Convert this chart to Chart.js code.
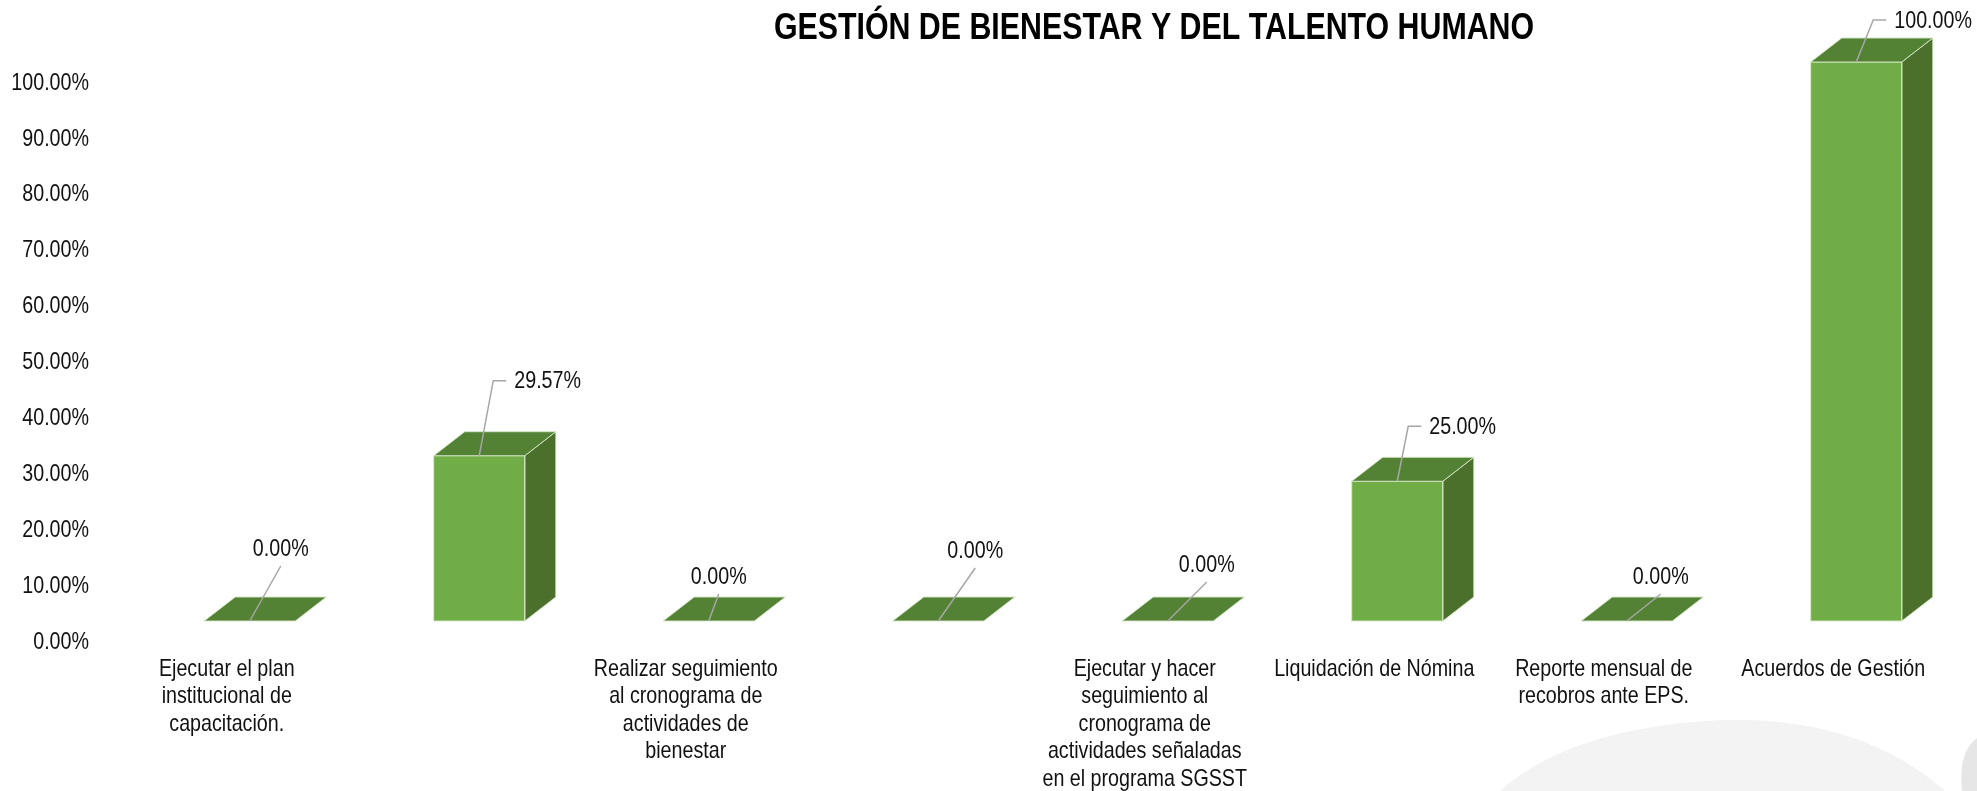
<!DOCTYPE html>
<html lang="es">
<head>
<meta charset="utf-8">
<title>Gestión de Bienestar y del Talento Humano</title>
<script src="https://cdn.jsdelivr.net/npm/chart.js@4.4.1/dist/chart.umd.min.js"></script>
<style>
  html, body { margin: 0; padding: 0; background: #fff; }
  #wrap { position: relative; width: 1977px; height: 791px; }
</style>
</head>
<body>
<div id="wrap"><canvas id="bienestarChart"></canvas></div>
<script>
// datos
const chartTitle = 'GESTIÓN DE BIENESTAR Y DEL TALENTO HUMANO';
const categories = [
    ['Ejecutar el plan', 'institucional de', 'capacitación.'],
    '',
    ['Realizar seguimiento', 'al cronograma de', 'actividades de', 'bienestar'],
    '',
    ['Ejecutar y hacer', 'seguimiento al', 'cronograma de', 'actividades señaladas', 'en el programa SGSST'],
    'Liquidación de Nómina',
    ['Reporte mensual de', 'recobros ante EPS.'],
    'Acuerdos de Gestión'
];
const avance = [0, 29.57, 0, 0, 0, 25, 0, 100];
const yMin = 0, yMax = 100, yStep = 10;

// posicion manual de las etiquetas (como en el original), relativa al borde de la barra
const labelLeaders = [[31, -55], [14, -75], [10, -27], [37, -53], [39, -39], [11, -55], [34, -27], [17, -42]];

// no hay Arial Narrow: se estrecha Liberation Sans
const FONT = "'Liberation Sans', Arial, sans-serif";
const NARROW = 0.82;
const DEPTH_X = 31, DEPTH_Y = 24;
const colors = {
    front: '#70AD47',
    top: '#548235',
    side: '#4A702B',
    edge: 'rgba(214,232,202,0.9)',
    leader: '#A6A6A6',
    text: '#111111'
};

function narrowText(ctx, text, x, y, align, font) {
    ctx.save();
    ctx.font = font;
    ctx.textAlign = align;
    ctx.translate(x, y);
    ctx.scale(NARROW, 1);
    ctx.fillText(text, 0, 0);
    ctx.restore();
}

// fondo: marca de agua gris en la esquina
const watermarkPlugin = {
    id: 'watermark',
    beforeDraw(chart) {
        const ctx = chart.ctx;
        ctx.save();
        ctx.fillStyle = '#f3f3f3';
        ctx.beginPath();
        ctx.moveTo(1500, 791);
        ctx.quadraticCurveTo(1570, 728, 1720, 720);
        ctx.quadraticCurveTo(1860, 716, 1945, 791);
        ctx.closePath();
        ctx.fill();
        ctx.fillStyle = '#e6e6e6';
        ctx.beginPath();
        ctx.moveTo(1977, 738);
        ctx.quadraticCurveTo(1958, 752, 1962, 791);
        ctx.lineTo(1977, 791);
        ctx.closePath();
        ctx.fill();
        ctx.restore();
    }
};

// caras superior y lateral de las columnas 3D
const cubePlugin = {
    id: 'cube',
    afterDatasetsDraw(chart) {
        const ctx = chart.ctx;
        chart.getDatasetMeta(0).data.forEach(bar => {
            const p = bar.getProps(['x', 'y', 'base', 'width'], true);
            const l = p.x - p.width / 2, r = p.x + p.width / 2;
            const top = Math.min(p.y, p.base), base = Math.max(p.y, p.base);
            ctx.save();
            ctx.lineWidth = 1;
            ctx.strokeStyle = colors.edge;
            if (base - top > 0.5) {
                ctx.beginPath();
                ctx.moveTo(r, top);
                ctx.lineTo(r + DEPTH_X, top - DEPTH_Y);
                ctx.lineTo(r + DEPTH_X, base - DEPTH_Y);
                ctx.lineTo(r, base);
                ctx.closePath();
                ctx.fillStyle = colors.side;
                ctx.fill();
                ctx.stroke();
                ctx.strokeRect(l, top, p.width, base - top);
            }
            ctx.beginPath();
            ctx.moveTo(l, top);
            ctx.lineTo(r, top);
            ctx.lineTo(r + DEPTH_X, top - DEPTH_Y);
            ctx.lineTo(l + DEPTH_X, top - DEPTH_Y);
            ctx.closePath();
            ctx.fillStyle = colors.top;
            ctx.fill();
            ctx.stroke();
            ctx.restore();
        });
    }
};

// etiquetas de los ejes (texto estrecho) a partir de las escalas de Chart.js
const axisLabelPlugin = {
    id: 'axisLabels',
    afterDraw(chart) {
        const ctx = chart.ctx;
        const xs = chart.scales.x, ys = chart.scales.y;
        ctx.save();
        ctx.fillStyle = colors.text;
        ctx.textBaseline = 'middle';
        ys.ticks.forEach((t, i) => {
            narrowText(ctx, t.value.toFixed(2) + '%', 89, ys.getPixelForTick(i) + 21, 'right', '24px ' + FONT);
        });
        chart.data.labels.forEach((lab, i) => {
            const lines = Array.isArray(lab) ? lab : [lab];
            const cx = xs.getPixelForTick(i) - 23;
            lines.forEach((line, j) => {
                narrowText(ctx, line, cx, xs.top + 48 + j * 27.6, 'center', '24px ' + FONT);
            });
        });
        ctx.restore();
    }
};

// etiquetas de datos con linea guia
const leaderLabelPlugin = {
    id: 'leaderLabels',
    afterDraw(chart) {
        const ctx = chart.ctx;
        ctx.save();
        ctx.fillStyle = colors.text;
        ctx.strokeStyle = colors.leader;
        ctx.lineWidth = 1.5;
        ctx.textBaseline = 'middle';
        chart.getDatasetMeta(0).data.forEach((bar, i) => {
            const { x, y } = bar.getProps(['x', 'y'], true);
            const [dx, dy] = labelLeaders[i];
            const ex = x + dx, ey = y + dy;
            const text = avance[i].toFixed(2) + '%';
            ctx.beginPath();
            ctx.moveTo(x, y);
            ctx.lineTo(ex, ey);
            if (avance[i] > 0) {
                ctx.lineTo(ex + 13, ey);
                ctx.stroke();
                narrowText(ctx, text, ex + 21, ey + 1, 'left', '24px ' + FONT);
            } else {
                ctx.stroke();
                narrowText(ctx, text, ex, ey - 17, 'center', '24px ' + FONT);
            }
        });
        ctx.restore();
    }
};

const titlePlugin = {
    id: 'chartTitle',
    afterDraw(chart) {
        const ctx = chart.ctx;
        ctx.save();
        ctx.fillStyle = '#000';
        ctx.textBaseline = 'alphabetic';
        narrowText(ctx, chartTitle, 1154, 39, 'center', 'bold 37px ' + FONT);
        ctx.restore();
    }
};

const ctx = document.getElementById('bienestarChart').getContext('2d');
window.bienestarChart = new Chart(ctx, {
    type: 'bar',
    data: {
        labels: categories,
        datasets: [{
            label: 'Avance',
            data: avance,
            backgroundColor: colors.front,
            borderWidth: 0,
            categoryPercentage: 1,
            barPercentage: 0.397
        }]
    },
    options: {
        responsive: true,
        maintainAspectRatio: false,
        animation: false,
        layout: { padding: { top: 62, right: 6, bottom: 0, left: 0 } },
        plugins: {
            legend: { display: false },
            tooltip: { enabled: false },
            title: { display: false }
        },
        scales: {
            x: {
                offset: true,
                grid: { display: false, drawTicks: false },
                border: { display: false },
                ticks: { display: false, autoSkip: false, maxRotation: 0 },
                afterFit(scale) { scale.height = 170; }
            },
            y: {
                min: yMin,
                max: yMax,
                grid: { display: false, drawTicks: false },
                border: { display: false },
                ticks: { display: false, stepSize: yStep },
                afterFit(scale) { scale.width = 135; }
            }
        }
    },
    plugins: [watermarkPlugin, cubePlugin, axisLabelPlugin, leaderLabelPlugin, titlePlugin]
});
</script>
</body>
</html>
